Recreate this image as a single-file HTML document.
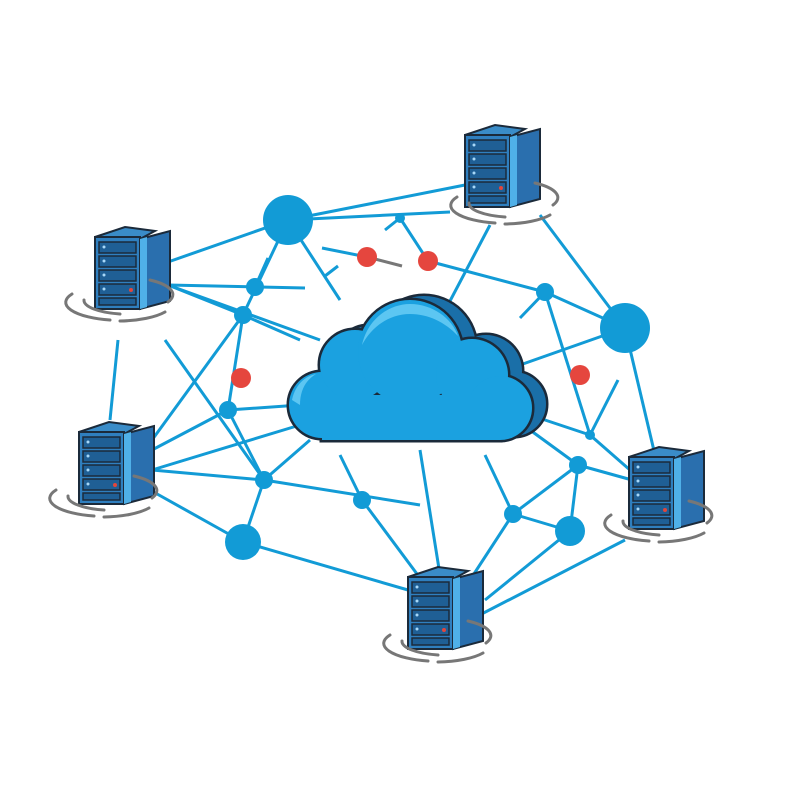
<!DOCTYPE html>
<html><head><style>body{margin:0;background:#fff}svg{display:block}</style></head><body>
<svg width="800" height="800" viewBox="0 0 800 800" xmlns="http://www.w3.org/2000/svg">
<defs>
<g id="srv">
 <path d="M0,10 L30,0 L60,4 L45,12 Z" fill="#3a8cc8" stroke="#1b2a3a" stroke-width="2"/>
 <rect x="0" y="10" width="45" height="72" fill="#2f7fbf" stroke="#1b2a3a" stroke-width="2"/>
 <path d="M45,12 L75,4 L75,74 L45,82 Z" fill="#2a6fae" stroke="#1b2a3a" stroke-width="2"/>
 <path d="M45,12 L52,10 L52,80 L45,82Z" fill="#4fb0e8"/>
 <g fill="#1f5f95" stroke="#1b2a3a" stroke-width="1.5">
  <rect x="4" y="15" width="37" height="11"/><rect x="4" y="29" width="37" height="11"/>
  <rect x="4" y="43" width="37" height="11"/><rect x="4" y="57" width="37" height="11"/>
  <rect x="4" y="71" width="37" height="7"/>
 </g>
 <g fill="#a8d8f8"><circle cx="9" cy="20" r="1.5"/><circle cx="9" cy="34" r="1.5"/><circle cx="9" cy="48" r="1.5"/><circle cx="9" cy="62" r="1.5"/></g>
 <circle cx="36" cy="63" r="2" fill="#e2463c"/>
</g>
<g id="ring" fill="none" stroke="#777" stroke-width="3" stroke-linecap="round">
 <path d="M-8,72 A55,18 0 0 0 30,98"/><path d="M40,99 A55,18 0 0 0 85,90"/><path d="M88,80 A55,18 0 0 0 70,58"/>
 <path d="M4,78 A45,14 0 0 0 40,92"/>
</g>
<g id="cl">
 <circle cx="322" cy="405" r="33"/>
 <circle cx="355" cy="365" r="35"/>
 <circle cx="410" cy="352" r="52"/>
 <circle cx="472" cy="375" r="36"/>
 <circle cx="500" cy="408" r="32"/>
 <rect x="322" y="395" width="178" height="45"/>
</g>
</defs>
<g stroke="#129bd6" stroke-width="3" fill="none">
 <line x1="288" y1="220" x2="465" y2="185"/>
 <line x1="288" y1="220" x2="450" y2="212"/>
 <line x1="288" y1="220" x2="168" y2="262"/>
 <line x1="288" y1="220" x2="340" y2="300"/>
 <line x1="288" y1="220" x2="243" y2="315"/>
 <line x1="168" y1="285" x2="305" y2="288"/>
 <line x1="168" y1="285" x2="320" y2="340"/>
 <line x1="168" y1="285" x2="243" y2="315"/>
 <line x1="255" y1="287" x2="268" y2="258"/>
 <line x1="243" y1="315" x2="228" y2="410"/>
 <line x1="243" y1="315" x2="152" y2="440"/>
 <line x1="243" y1="315" x2="300" y2="340"/>
 <line x1="118" y1="340" x2="110" y2="420"/>
 <line x1="165" y1="340" x2="264" y2="480"/>
 <line x1="228" y1="410" x2="152" y2="450"/>
 <line x1="228" y1="410" x2="300" y2="405"/>
 <line x1="228" y1="410" x2="264" y2="480"/>
 <line x1="152" y1="470" x2="300" y2="425"/>
 <line x1="152" y1="470" x2="264" y2="480"/>
 <line x1="150" y1="490" x2="243" y2="542"/>
 <line x1="264" y1="480" x2="243" y2="542"/>
 <line x1="264" y1="480" x2="420" y2="505"/>
 <line x1="264" y1="480" x2="310" y2="440"/>
 <line x1="243" y1="542" x2="408" y2="590"/>
 <line x1="362" y1="500" x2="420" y2="578"/>
 <line x1="362" y1="500" x2="340" y2="455"/>
 <line x1="420" y1="450" x2="440" y2="575"/>
 <line x1="485" y1="455" x2="513" y2="514"/>
 <line x1="513" y1="514" x2="470" y2="580"/>
 <line x1="513" y1="514" x2="578" y2="465"/>
 <line x1="513" y1="514" x2="570" y2="531"/>
 <line x1="485" y1="600" x2="570" y2="531"/>
 <line x1="470" y1="620" x2="625" y2="540"/>
 <line x1="578" y1="465" x2="570" y2="531"/>
 <line x1="578" y1="465" x2="530" y2="430"/>
 <line x1="578" y1="465" x2="632" y2="480"/>
 <line x1="590" y1="435" x2="630" y2="470"/>
 <line x1="590" y1="435" x2="530" y2="415"/>
 <line x1="590" y1="435" x2="618" y2="380"/>
 <line x1="625" y1="328" x2="655" y2="455"/>
 <line x1="625" y1="328" x2="520" y2="365"/>
 <line x1="625" y1="328" x2="545" y2="292"/>
 <line x1="625" y1="328" x2="540" y2="215"/>
 <line x1="545" y1="292" x2="590" y2="435"/>
 <line x1="545" y1="292" x2="428" y2="261"/>
 <line x1="545" y1="292" x2="520" y2="318"/>
 <line x1="490" y1="225" x2="440" y2="320"/>
 <line x1="400" y1="218" x2="428" y2="261"/>
 <line x1="400" y1="218" x2="385" y2="230"/>
 <line x1="367" y1="257" x2="322" y2="248"/>
 <line x1="338" y1="266" x2="325" y2="276"/>
</g>
<line x1="367" y1="257" x2="402" y2="266" stroke="#777" stroke-width="3"/>
<g fill="#129bd6">
 <circle cx="288" cy="220" r="25"/><circle cx="625" cy="328" r="25"/>
 <circle cx="243" cy="542" r="18"/><circle cx="570" cy="531" r="15"/>
 <circle cx="255" cy="287" r="9"/><circle cx="243" cy="315" r="9"/><circle cx="228" cy="410" r="9"/>
 <circle cx="264" cy="480" r="9"/><circle cx="362" cy="500" r="9"/><circle cx="513" cy="514" r="9"/>
 <circle cx="578" cy="465" r="9"/><circle cx="545" cy="292" r="9"/><circle cx="400" cy="218" r="5"/>
 <circle cx="590" cy="435" r="5"/>
</g>
<g fill="#e5463e">
 <circle cx="367" cy="257" r="10"/><circle cx="428" cy="261" r="10"/><circle cx="241" cy="378" r="10"/><circle cx="580" cy="375" r="10"/>
</g>
<!-- cloud: back layer -->
<use href="#cl" x="14" y="-4" fill="#1b2a3a" stroke="#1b2a3a" stroke-width="5"/>
<use href="#cl" x="14" y="-4" fill="#1a6fa8"/>
<!-- front -->
<use href="#cl" fill="#1b2a3a" stroke="#1b2a3a" stroke-width="5"/>
<use href="#cl" fill="#1ba1e0"/>
<path d="M362,345 C368,318 390,304 410,304 C432,304 452,318 458,336 C445,322 428,314 410,314 C390,314 372,326 362,345Z" fill="#5cc6f2"/>
<path d="M292,400 C295,385 305,376 316,374 C306,380 300,390 300,405Z" fill="#5cc6f2"/>
<use href="#srv" x="465" y="125"/><use href="#ring" x="465" y="125"/>
<use href="#srv" x="95" y="227"/><use href="#ring" x="80" y="222"/>
<use href="#srv" x="79" y="422"/><use href="#ring" x="64" y="418"/>
<use href="#srv" x="629" y="447"/><use href="#ring" x="619" y="443"/>
<use href="#srv" x="408" y="567"/><use href="#ring" x="398" y="563"/>
</svg>
</body></html>
